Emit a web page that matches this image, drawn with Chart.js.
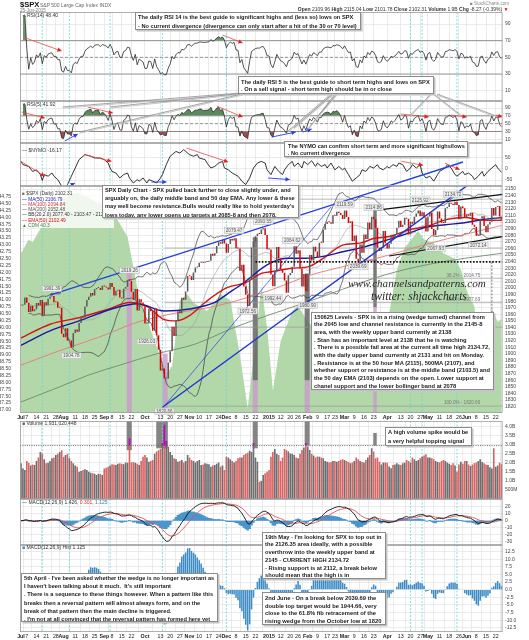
<!DOCTYPE html>
<html><head><meta charset="utf-8"><title>$SPX Daily</title>
<script src="https://cdn.jsdelivr.net/npm/chart.js"></script>
<style>
html,body{margin:0;padding:0;background:#fff;}
#wrap{position:relative;width:529px;height:640px;overflow:hidden;background:#fff;font-family:"Liberation Sans",Arial,sans-serif;}
#wrap canvas{position:absolute;left:0;}
.t{position:absolute;white-space:pre;color:#333;}
.box{position:absolute;background:#fff;border:1px solid #8c8c8c;box-shadow:1.5px 1.5px 0 #c4c4c4;box-sizing:border-box;overflow:hidden;}
.bin{position:absolute;color:#1a1a1a;font-weight:bold;white-space:pre;transform:scale(0.5);transform-origin:0 0;}
.wm{position:absolute;white-space:pre;font-family:"Liberation Serif",serif;font-style:italic;color:#2a2a2a;}
</style></head>
<body><div id="wrap"></div>
<script>
// ---------------- DATA ----------------
const tickIdx  = [0,3,8,13,18,22,28,33,38,43,47,52,57,64,72,77,82,87,92,97,102,106,111,116,121,128,134,139,143,148,153,158,162,167,172,177,182,189,196,201,206,210,216,221,226,230,235,240,245];
const tickText = ['Jul','7','14','21','28','Aug','11','18','25','Sep','8','15','22','Oct','13','20','27','Nov','10','17','24','Dec','8','15','22','2015','12','20','26','Feb','9','17','23','Mar','9','16','23','Apr','13','20','27','May','11','18','26','Jun','8','15','22'];
const monthIdx = [0,22,43,64,87,106,128,148,167,189,210,230];

const closes = [
1973.32,1974.62,1985.44,1977.65,1963.71,1972.83,1964.68,1967.57,1977.10,1973.28,1981.57,1958.12,1978.22,1973.63,1983.53,1987.01,1987.98,1978.34,1978.91,1969.95,1970.07,1930.67,
1925.15,1938.99,1920.21,1920.24,1909.57,1931.59,1936.92,1933.75,1946.72,1955.18,1955.06,1971.74,1981.60,1986.51,1992.37,1988.40,1997.92,2000.02,2000.12,1996.74,2003.37,
2002.28,2000.72,1997.65,2007.71,2001.54,1988.44,1995.69,1997.45,1985.54,1984.13,1998.98,2001.57,2011.36,2010.40,1994.29,1982.77,1998.30,1965.99,1982.85,1977.80,1972.29,
1946.16,1946.17,1967.90,1964.82,1935.10,1968.89,1928.21,1906.13,1874.74,1877.70,1862.49,1862.76,1886.76,1904.01,1941.28,1927.11,1950.82,1964.58,1961.63,1985.05,1982.30,1994.65,2018.05,
2017.81,2012.10,2023.57,2031.21,2031.92,2038.26,2039.68,2038.25,2039.33,2039.82,2041.32,2051.80,2048.72,2052.75,2063.50,2069.41,2067.03,2072.83,2067.56,
2053.44,2066.55,2074.33,2071.92,2075.37,2060.31,2059.82,2026.14,2035.33,2002.33,1989.63,1972.74,2012.89,2061.23,2070.65,2078.54,2082.17,2081.88,2088.77,2090.57,2080.35,2058.90,
2058.20,2020.58,2002.61,2025.90,2062.14,2044.81,2028.26,2023.03,2011.27,1992.67,2019.42,2022.55,2032.12,2063.15,2051.82,2057.09,2029.55,2002.16,2021.25,1994.99,
2020.85,2050.03,2041.51,2062.52,2055.47,2046.74,2068.59,2068.53,2088.48,2096.99,2100.34,2099.68,2097.45,2110.30,2109.66,2115.48,2113.86,2110.74,2104.50,
2117.39,2107.78,2098.53,2101.04,2071.26,2079.43,2044.16,2040.24,2065.95,2053.40,2081.19,2074.28,2099.50,2089.27,2108.10,2104.42,2091.50,2061.05,2056.15,2061.02,2086.24,2067.89,
2059.69,2066.96,2080.62,2076.33,2081.90,2091.18,2102.06,2092.43,2095.84,2106.63,2104.99,2081.18,2100.40,2097.29,2107.96,2112.93,2117.69,2108.92,2114.76,2106.85,2085.51,
2108.29,2114.49,2089.46,2080.15,2088.00,2116.10,2105.33,2099.12,2098.48,2121.10,2122.73,2129.20,2127.83,2125.85,2130.82,2126.06,2104.20,2123.48,2120.79,2107.39,
2111.73,2109.60,2114.07,2095.84,2092.83,2079.28,2080.15,2105.20,2108.86,2094.11,2084.43,2096.29,2100.44,2121.24,2109.99,2122.85,2124.20,2108.58,2102.31];

const volumes = [ // billions
1.97,1.69,1.6,2.1,2.0,1.85,1.9,1.88,2.1,2.3,
2.6,2.5,2.2,1.97,2.0,2.1,2.25,2.3,2.43,2.5,
2.6,2.7,2.34,2.43,2.5,2.25,2.1,1.97,1.85,1.78,
1.5,1.55,1.6,1.65,1.6,1.5,1.45,1.42,1.4,1.33,
1.4,1.38,1.33,1.69,1.72,1.78,1.85,1.92,1.9,1.88,
1.95,1.97,1.95,1.92,2.02,2.0,3.35,2.02,2.05,2.0,
1.95,1.88,2.1,2.34,2.43,2.3,2.06,2.1,2.16,2.5,
2.62,2.7,2.76,3.1,4.1,3.2,2.89,2.6,2.43,2.25,
2.2,2.06,2.1,2.16,2.02,2.1,2.43,2.3,2.16,2.1,
2.02,2.1,2.16,1.88,1.9,1.97,1.95,1.92,1.78,1.85,
1.88,1.95,2.02,1.78,1.85,1.6,2.34,2.3,2.2,2.1,
2.02,2.1,2.25,2.3,2.3,2.43,2.5,2.55,2.66,2.6,
3.1,2.3,2.06,0.96,1.0,1.33,1.42,1.5,1.6,2.34,
2.6,2.76,2.5,2.43,2.1,2.3,2.76,2.7,2.62,2.52,
2.5,2.43,2.3,2.25,2.5,2.71,2.85,3.1,2.9,2.71,
2.5,2.4,2.3,2.35,2.34,2.3,2.25,2.1,2.06,2.02,
2.05,2.1,2.1,2.06,2.1,2.16,2.2,2.16,2.1,2.05,
1.97,2.02,2.1,2.3,2.2,2.1,2.05,2.02,2.16,2.3,
2.43,2.8,2.62,2.25,2.3,2.06,1.9,2.02,2.02,2.0,
1.8,1.7,1.88,1.9,1.97,1.9,1.88,1.97,2.0,2.16,
2.1,2.02,2.3,2.2,2.1,2.15,2.25,2.34,2.4,2.47,
2.3,2.3,2.25,2.2,2.1,2.05,2.02,2.1,2.16,2.1,
2.02,1.95,1.88,1.97,1.85,1.5,1.9,2.06,1.95,2.1,
2.1,1.9,1.83,1.9,1.97,2.02,2.1,2.2,2.05,1.97,
1.9,1.88,1.75,1.69,2.8,1.78,1.85,2.0,1.92];
const volThreshold = 2.95;

const nymoIdx = [0,1,4,6,8,10,11,12,14,16,17,19,21,23,24,26,28,30,33,36,38,41,43,45,46,47,49,51,53,55,56,58,60,61,63,65,66,68,70,72,73,75,77,78,80,82,84,86,87,89,91,92,95,96,98,100,102,104,105,107,109,112,114,116,118,120,122,124,126,127,129,131,133,135,136,138,140,141,143,145,146,148,150,152,153,155,157,158,160,162,164,166,167,169,171,173,175,176,178,180,182,184,185,187,189,190,192,194,195,197,199,201,202,204,206,207,209,211,213,215,216,219,220,222,224,225,228,229,231,233,234,236,238,239,241,243,245,246,248];
const nymoVal = [32,18,10,-12,-5,-26,-52,-26,-33,-19,-33,-48,-77,-85,-70,-33,3,40,62,55,47,47,40,25,3,-12,-19,-41,-26,-19,-41,-63,-48,-55,-41,-63,-48,-55,-63,-41,-26,18,55,62,76,69,84,69,62,55,62,47,40,25,3,10,25,32,3,-5,-19,-33,-55,-70,-41,3,25,32,25,-5,-26,10,-12,-26,-5,18,32,10,25,3,32,18,35,10,25,10,18,3,25,-5,10,-5,3,-26,-55,-41,-26,-5,-12,10,3,18,3,-5,10,3,18,10,25,18,-12,3,18,3,18,-19,-41,-33,-55,-26,-12,3,18,3,-26,-33,-12,-26,-19,-33,-48,-33,-12,-33,-12,3,18,3,-16];

const cpcIdx = [0,4,6,11,14,19,24,29,34,39,44,49,55,58,61,65,68,72,75,78,82,86,89,96,103,108,113,117,121,124,127,130,134,140,143,148,155,162,170,178,186,190,194,198,205,208,213,218,224,227,230,234,237,240,243,246,248];
const cpcVal = [42.7,43.2,43.1,43.7,44.3,44.5,44.75,44.9,44.75,44.56,44.4,44.0,43.3,42.2,41.1,40.3,39.7,38.9,38.3,38.6,41.0,41.2,40.9,40.6,41.2,41.0,39.0,37.05,39.5,41.5,40.0,37.7,39.5,40.6,40.8,40.2,39.8,40.1,39.6,40.0,39.4,40.5,42.1,42.9,43.5,43.2,43.06,42.7,42.5,42.1,41.35,40.75,38.5,39.3,40.7,40.2,40.3];

const ma50Idx = [0,15,30,49,60,74,87,100,106,115,127,137,147,156,166,177,188,199,209,219,229,239,248];
const ma50Val = [1913,1935,1950,1970,1976,1965,1968,1978,1990,2008,2035,2045,2045,2048,2055,2062,2072,2082,2092,2096,2099,2104,2106.8];
const ema50Idx = [0,15,30,45,56,65,74,80,87,95,106,116,124,130,140,148,156,166,175,182,190,200,210,220,229,238,248];
const ema50Val = [1924,1945,1955,1968,1978,1972,1952,1950,1958,1978,2000,2008,2022,2025,2030,2032,2045,2065,2068,2075,2078,2088,2094,2104,2107,2103,2102.5];
const ma100Idx = [0,20,40,60,80,100,127,150,170,190,210,230,248];
const ma100Val = [1883,1905,1925,1948,1962,1972,1995,2020,2035,2050,2067,2082,2094.8];
const ma200Idx = [0,20,35,50,70,90,110,127,147,166,188,209,229,248];
const ma200Val = [1827,1850,1868,1882,1900,1915,1940,1958,1978,1998,2020,2035,2045,2052.5];

const fibLow = 1820.66, fibHigh = 2134.72, fibStartIdx = 74;
const fibPct = [0, 23.6, 38.2, 50, 61.8, 100];

const plIdx   = [16,56,26,65,74,110,117,125,140,148,130,167,174,182,206,223,214,236];
const plPrice = [1991.39,2019.26,1904.78,1926.03,1820.66,2079.47,1972.56,2093.55,2064.62,1980.90,1992.44,2119.59,2039.69,2114.86,2125.92,2134.72,2067.93,2072.14];

const cyanIdx = [11,25,46,73,106,201,207,225];
const bandStart = [54.6,73.2,119.6,146.4,181.8];
const bandEnd   = [57.2,75.7,122.2,149,183.6];
const bandPinkTop = [2030,1900,1860,1860,1971];
const bandGrayTop = [null,null,2077,2022,2126];
const volBandStart = [54.6,69.8,119.6,146.4,181.8];
const volBandEnd   = [57.2,75.8,122.2,149,183.6];
const volBandHi = [4.4,4.4,4.4,4.4,3.65];
const volBandLo = [2.7,2.8,2.8,2.95,2.95];

// trend lines [idx, value]
const rsi14Red = [[[1,74.4],[21,57.6]], [[104,76.8],[114.4,67.2]]];
const rsi5Red  = [[[0.4,79.8],[12.3,64.4]], [[34.5,92.6],[47.4,77.2]], [[101,95],[114.4,67]], [[196,74.7],[210.4,67]], [[221.8,72],[230,67]], [[245,72],[248.4,67]]];
const rsi5Blue = [[[22.6,5.6],[29.3,23.5]], [[129.4,15.8],[141.8,28.4]], [[145.4,28.4],[150,36.3]]];
const nymoRed  = [[[0,32.6],[12.3,-33.6]], [[32.9,61.7],[46.7,32.6]], [[85.4,91],[106.9,29.5]], [[196.3,32.6],[207.5,15]], [[218.7,25],[226.4,-4]]];
const nymoBlue = [[[21.7,-92],[27.8,-63]], [[67.3,-58.6],[75.1,-58.6]], [[127.5,-41],[138.7,-48]]];
const nymoBlueThick = [[182.6,-95],[228.1,29.5]];
const pxBlueUpper = [[15,1989],[201,2164]];
const pxBlueThin  = [[74,1821],[160,2123]];
const pxBlueThick = [[73,1819],[232,2159]];
const pxChanUpper = [[184,2118],[248.5,2142]];
const pxChanLower = [[190,2048.5],[248.5,2078]];
const pxDotted    = [[121,2039.69],[248.5,2039.69]];
const pxTarget    = [[243,2039.69],[243,1948]];
const rsi5Callouts = [[21.6,92.6],[45.8,92.6],[30.3,28.6],[137.2,28.6],[140.8,38.8],[148.5,38.8],[153.7,72],[201,72],[226.9,72],[244,72]];

// ---------------- INDICATORS (derived from closes) ----------------
function rsi(c,n){const o=[null];let ag=0,al=0;for(let i=1;i<c.length;i++){const d=c[i]-c[i-1],g=Math.max(d,0),l=Math.max(-d,0);if(i<=n){ag=(ag*(i-1)+g)/i;al=(al*(i-1)+l)/i;}else{ag=(ag*(n-1)+g)/n;al=(al*(n-1)+l)/n;}o.push(al===0?100:100-100/(1+ag/al));}return o;}
function ema(a,n){const k=2/(n+1);const o=[];let e=a[0];for(let i=0;i<a.length;i++){e=i===0?a[0]:a[i]*k+e*(1-k);o.push(e);}return o;}
function boll(c,n,m){const up=[],mid=[],lo=[];for(let i=0;i<c.length;i++){const s=Math.max(0,i-n+1);const w=c.slice(s,i+1);if(w.length<5){up.push(null);mid.push(null);lo.push(null);continue;}const av=w.reduce((p,q)=>p+q,0)/w.length;const sd=Math.sqrt(w.reduce((p,q)=>p+(q-av)*(q-av),0)/w.length);up.push(av+m*sd);mid.push(av);lo.push(av-m*sd);}return{up,mid,lo};}
const rsi14 = rsi(closes,14), rsi5 = rsi(closes,5);
const e12 = ema(closes,12), e26 = ema(closes,26);
const macd = e12.map((v,i)=>v-e26[i]);
const signal = ema(macd,9);
const hist = macd.map((v,i)=>v-signal[i]);
const bb = boll(closes,20,2);

// ---------------- HELPERS ----------------
const FONT = '"Liberation Sans", Arial, sans-serif';
Chart.defaults.font.family = FONT;
const wrap = document.getElementById('wrap');
const pts = a => a.map((v,i)=>({x:i,y:v}));
const pts2 = (ix,vals) => ix.map((x,k)=>({x,y:vals[k]}));
const RED = 'rgba(232,75,75,0.9)', BLUE = '#2440e0';
function mkCanvas(top,h){const c=document.createElement('canvas');c.width=529;c.height=h;c.style.top=top+'px';c.style.width='529px';c.style.height=h+'px';wrap.appendChild(c);return c;}
function seg(p,color,w,extra){return Object.assign({type:'line',data:p.map(q=>({x:q[0],y:q[1]})),borderColor:color,borderWidth:w,pointRadius:0,fill:false,order:1,yAxisID:'y'},extra||{});}
function xAxis(show){return{type:'linear',min:-0.5,max:248.5,offset:false,position:'bottom',
  afterBuildTicks(s){s.ticks=tickIdx.map(v=>({value:v}));},
  ticks:{display:show,autoSkip:false,maxRotation:0,minRotation:0,padding:1.5,color:'#222',
    font:c=>({family:FONT,size:5.3,weight:(c.tick&&monthIdx.includes(c.tick.value))?'bold':'normal'}),
    callback:v=>{const k=tickIdx.indexOf(v);return k<0?'':tickText[k];}},
  grid:{color:'#e2e2e2',lineWidth:0.7,drawTicks:false},border:{display:false},
  afterFit(s){s.height=show?8:0;s.paddingLeft=0;s.paddingRight=0;s.paddingTop=0;s.paddingBottom=0;}};}
function yR(min,max,ticks,fmt){return{position:'right',min,max,
  afterBuildTicks(s){s.ticks=ticks.map(v=>({value:v}));},
  ticks:{autoSkip:false,padding:2.5,color:'#444',font:{family:FONT,size:5},callback:v=>fmt(v)},
  grid:{color:'#e2e2e2',lineWidth:0.7,drawTicks:false},border:{display:false},
  afterFit(s){s.width=26.5;s.paddingTop=0;s.paddingBottom=0;}};}
function yLDummy(){return{position:'left',min:0,max:1,ticks:{display:false},grid:{display:false},border:{display:false},afterFit(s){s.width=20;s.paddingTop=0;s.paddingBottom=0;}};}
function opts(scales,kind){return{responsive:false,animation:false,events:[],layout:{padding:0},
  plugins:{legend:{display:false},tooltip:{enabled:false},panel:{kind}},scales,elements:{line:{tension:0}}};}

const HL = {
  rsi14:[{v:70,c:'#8c8c8c',d:[]},{v:50,c:'#8c8c8c',d:[3,2]},{v:30,c:'#8c8c8c',d:[]}],
  rsi5:[{v:70,c:'#8c8c8c',d:[]},{v:50,c:'#8c8c8c',d:[3,2]},{v:30,c:'#8c8c8c',d:[]}]
};
function drawUnder(chart,kind){
  const {ctx,chartArea:a,scales}=chart;const X=scales.x,Y=scales.y;
  ctx.save();ctx.beginPath();ctx.rect(a.left,a.top,a.right-a.left,a.bottom-a.top);ctx.clip();
  if(kind==='price'){
    bandStart.forEach((s,k)=>{const x1=X.getPixelForValue(s),x2=X.getPixelForValue(bandEnd[k]);
      const yp=Y.getPixelForValue(bandPinkTop[k]);ctx.fillStyle='rgba(206,150,206,0.78)';ctx.fillRect(x1,yp,x2-x1,a.bottom-yp);
      if(bandGrayTop[k]!==null){const yg=Y.getPixelForValue(bandGrayTop[k]);ctx.fillStyle='rgba(100,100,100,0.85)';ctx.fillRect(x1,yg,x2-x1,yp-yg);}});
  }
  if(kind==='vol'){
    volBandStart.forEach((s,k)=>{const x1=X.getPixelForValue(s),x2=X.getPixelForValue(volBandEnd[k]);
      const y1=Y.getPixelForValue(volBandHi[k]),y2=Y.getPixelForValue(volBandLo[k]);ctx.fillStyle='rgba(120,120,120,0.9)';ctx.fillRect(x1,y1,x2-x1,y2-y1);});
  }
  (HL[kind]||[]).forEach(h=>{const y=Y.getPixelForValue(h.v);ctx.strokeStyle=h.c;ctx.lineWidth=0.9;ctx.setLineDash(h.d);ctx.beginPath();ctx.moveTo(a.left,y);ctx.lineTo(a.right,y);ctx.stroke();});
  ctx.strokeStyle='#62d6da';ctx.lineWidth=0.8;ctx.setLineDash([2,1.5]);
  cyanIdx.forEach(i=>{const x=X.getPixelForValue(i);ctx.beginPath();ctx.moveTo(x,a.top);ctx.lineTo(x,a.bottom);ctx.stroke();});
  ctx.restore();
}
function drawOver(chart,kind){
  const {ctx,chartArea:a,scales}=chart;const X=scales.x,Y=scales.y;
  ctx.save();
  if(kind==='vol'){const y=Y.getPixelForValue(volThreshold);ctx.strokeStyle='#666';ctx.lineWidth=1;ctx.setLineDash([1,1.3]);ctx.beginPath();ctx.moveTo(a.left,y);ctx.lineTo(a.right,y);ctx.stroke();}
  if(kind==='price'){
    ctx.font='4.6px '+FONT;ctx.textBaseline='middle';
    plIdx.forEach((ix,k)=>{const p=plPrice[k];const above=p>=closes[ix];const x=X.getPixelForValue(ix);const y=Y.getPixelForValue(p)+(above?-5:5);
      const t=p.toFixed(2);const w=ctx.measureText(t).width+3;ctx.fillStyle='rgba(238,238,238,0.95)';ctx.strokeStyle='#b0b0b0';ctx.lineWidth=0.5;ctx.setLineDash([]);
      ctx.fillRect(x-w/2,y-3,w,6);ctx.strokeRect(x-w/2,y-3,w,6);ctx.fillStyle='#555';ctx.textAlign='center';ctx.fillText(t,x,y+0.3);});
    ctx.textAlign='right';ctx.fillStyle='#777';
    fibPct.forEach(pc=>{if(pc===0||pc===23.6)return;const pr=fibHigh-pc/100*(fibHigh-fibLow);const y=Y.getPixelForValue(pr)-3;ctx.fillText(pc.toFixed(1)+'% - '+pr.toFixed(2),X.getPixelForValue(237),y);});
  }
  ctx.restore();
}
const panelPlugin={id:'panel',
  beforeDatasetsDraw(chart,args,o){if(o.kind!=='price')drawUnder(chart,o.kind);},
  afterDatasetDraw(chart,args,o){if(o.kind==='price'&&chart.data.datasets[args.index].isArea)drawUnder(chart,o.kind);},
  afterDatasetsDraw(chart,args,o){drawOver(chart,o.kind);},
  afterDraw(chart){const {ctx,chartArea:a}=chart;ctx.save();ctx.strokeStyle='#9c9c9c';ctx.lineWidth=0.8;ctx.setLineDash([]);ctx.strokeRect(a.left+0.4,a.top+0.4,a.right-a.left-0.8,a.bottom-a.top-0.8);ctx.restore();}};
const arrowPlugin={id:'arrows',afterDatasetsDraw(chart){const ctx=chart.ctx;
  chart.data.datasets.forEach((ds,i)=>{if(!ds.arrow)return;const p=chart.getDatasetMeta(i).data;if(p.length<2)return;const a=p[p.length-2],b=p[p.length-1];
    const an=Math.atan2(b.y-a.y,b.x-a.x),L=4.2,W=2.2;ctx.save();ctx.fillStyle=ds.headColor||ds.borderColor;ctx.beginPath();ctx.moveTo(b.x,b.y);
    ctx.lineTo(b.x-L*Math.cos(an)+W*Math.sin(an),b.y-L*Math.sin(an)-W*Math.cos(an));ctx.lineTo(b.x-L*Math.cos(an)-W*Math.sin(an),b.y-L*Math.sin(an)+W*Math.cos(an));ctx.closePath();ctx.fill();ctx.restore();});}};
const PLUG=[panelPlugin,arrowPlugin];
const redArrow = s => seg(s,RED,0.9,{arrow:true,headColor:'#e02020'});
const blueArrow = s => seg(s,BLUE,0.9,{arrow:true});

// ---------------- CHARTS ----------------
const rsiFill = (data,hi,lo,gc,rc,lw)=>[
  {data,yAxisID:'y',borderColor:'#2a2a2a',borderWidth:lw,pointRadius:0,fill:{target:{value:hi},above:gc,below:'rgba(0,0,0,0)'},order:2},
  {data,yAxisID:'y',borderWidth:0,borderColor:'rgba(0,0,0,0)',pointRadius:0,fill:{target:{value:lo},above:'rgba(0,0,0,0)',below:rc},order:3}];

new Chart(mkCanvas(12,89),{type:'line',data:{datasets:[...rsi14Red.map(redArrow),...rsiFill(pts(rsi14),70,30,'#6d986d','#a05858',0.8)]},
  options:opts({x:xAxis(false),y:yR(-2.35,104.4,[90,70,50,30,10],v=>String(v)),yl:yLDummy()},'rsi14'),plugins:PLUG});

const cR5 = new Chart(mkCanvas(101,42),{type:'line',data:{datasets:[...rsi5Red.map(redArrow),...rsi5Blue.map(blueArrow),...rsiFill(pts(rsi5),70,30,'#5d8a5d','#9a5050',0.8)]},
  options:opts({x:xAxis(false),y:yR(0.54,107.9,[90,70,50,30,10],v=>String(v)),yl:yLDummy()},'rsi5'),plugins:PLUG});

new Chart(mkCanvas(143,43),{type:'line',data:{datasets:[...nymoRed.map(redArrow),...nymoBlue.map(blueArrow),seg(nymoBlueThick,BLUE,1.4),
  {data:pts2(nymoIdx,nymoVal),yAxisID:'y',borderColor:'#1e1e1e',borderWidth:0.9,pointRadius:0,fill:false,order:2}]},
  options:opts({x:xAxis(false),y:yR(-76.2,113.2,[50,0,-50],v=>String(v)),yl:yLDummy()},'nymo'),plugins:PLUG});

const priceTicks=[];for(let v=1820;v<=2150;v+=10)priceTicks.push(v);
const leftTicks=[];for(let v=37;v<=44.751;v+=0.25)leftTicks.push(+v.toFixed(2));
const fibSets = fibPct.map(pc=>{const pr=fibHigh-pc/100*(fibHigh-fibLow);return seg([[fibStartIdx,pr],[248.5,pr]],'#9a9a9a',0.7,{order:9});});
new Chart(mkCanvas(186,235),{type:'line',data:{datasets:[
  seg(pxBlueUpper,BLUE,1.3), seg(pxBlueThin,BLUE,0.7), seg(pxBlueThick,'#1f35d0',1.4),
  seg(pxChanUpper,'#111',1.2), seg(pxChanLower,'#111',1.2),
  seg(pxDotted,'#111',1.7,{borderDash:[1.6,1.6]}), seg(pxTarget,'#555',0.8,{borderDash:[2,1.5],arrow:true}),
  ...fibSets,
  {type:'bar',data:closes.map((c,i)=>({x:i,y:[i?closes[i-1]:c,c]})),yAxisID:'y',order:4,barPercentage:0.78,categoryPercentage:1,minBarLength:1,
    backgroundColor:c=>{const r=c.raw;return r&&r.y[1]<r.y[0]?'#e00000':'#5a5a5a';}},
  {data:pts2(ma50Idx,ma50Val),yAxisID:'y',borderColor:'#1a1aa0',borderWidth:1.4,pointRadius:0,tension:0.4,cubicInterpolationMode:'monotone',order:6},
  {data:pts2(ema50Idx,ema50Val),yAxisID:'y',borderColor:'#d41414',borderWidth:1.4,pointRadius:0,tension:0.4,cubicInterpolationMode:'monotone',order:6},
  {data:pts2(ma100Idx,ma100Val),yAxisID:'y',borderColor:'#e47878',borderWidth:0.9,pointRadius:0,tension:0.4,cubicInterpolationMode:'monotone',order:6},
  {data:pts2(ma200Idx,ma200Val),yAxisID:'y',borderColor:'#6f8a6f',borderWidth:0.9,pointRadius:0,tension:0.4,cubicInterpolationMode:'monotone',order:6},
  {data:pts(bb.up),yAxisID:'y',borderColor:'#3c3c3c',borderWidth:0.7,pointRadius:0,order:7},
  {data:pts(bb.mid),yAxisID:'y',borderColor:'#9a9a9a',borderWidth:0.6,pointRadius:0,order:7},
  {data:pts(bb.lo),yAxisID:'y',borderColor:'#3c3c3c',borderWidth:0.7,pointRadius:0,order:7},
  {data:pts2(cpcIdx,cpcVal),yAxisID:'yl',isArea:true,borderColor:'rgba(0,0,0,0)',borderWidth:0,pointRadius:0,fill:'start',backgroundColor:'#b2d8aa',order:20}
]},options:opts({x:xAxis(true),y:yR(1810.3,2154.7,priceTicks,v=>String(v)),
  yl:{position:'left',min:36.89,max:45.14,afterBuildTicks(s){s.ticks=leftTicks.map(v=>({value:v}));},
    ticks:{autoSkip:false,padding:1,color:'#444',font:{family:FONT,size:5},callback:v=>Number(v).toFixed(2)},
    grid:{display:false},border:{display:false},afterFit(s){s.width=20;s.paddingTop=0;s.paddingBottom=0;}}},'price'),plugins:PLUG});

new Chart(mkCanvas(421,78),{type:'bar',data:{datasets:[
  {data:volumes.map((v,i)=>v>volThreshold?{x:i,y:[volThreshold,v]}:null).filter(Boolean),yAxisID:'y',backgroundColor:'#c400c4',barPercentage:0.85,categoryPercentage:1,grouped:false,order:1},
  {data:volumes.map((v,i)=>({x:i,y:Math.min(v,volThreshold)})),yAxisID:'y',barPercentage:0.85,categoryPercentage:1,grouped:false,order:2,
    backgroundColor:c=>{const i=c.dataIndex;return i>0&&closes[i]<closes[i-1]?'#d96464':'#6e6e6e';}}
]},options:opts({x:xAxis(false),y:yR(0,4.31,[0.5,1,1.5,2,2.5,3,3.5,4],v=>v<1?'500M':v.toFixed(1)+'B'),yl:yLDummy()},'vol'),plugins:PLUG});

new Chart(mkCanvas(499,46),{type:'line',data:{datasets:[
  {data:pts(macd),yAxisID:'y',borderColor:'#111',borderWidth:0.9,pointRadius:0,order:1},
  {data:pts(signal),yAxisID:'y',borderColor:'#e25050',borderWidth:0.9,pointRadius:0,order:2},
  {type:'bar',data:pts(hist),yAxisID:'y',backgroundColor:'#4a95cc',barPercentage:1,categoryPercentage:1,order:3}
]},options:opts({x:xAxis(false),y:yR(-34.7,31,[20,10,0,-10,-20,-30],v=>String(v)),yl:yLDummy()},'macd'),plugins:PLUG});

new Chart(mkCanvas(545,95),{type:'bar',data:{datasets:[
  {data:pts(hist),yAxisID:'y',backgroundColor:'#3d8cc6',barPercentage:0.8,categoryPercentage:1,order:1}
]},options:opts({x:xAxis(true),y:yR(-13.9,14.7,[12.5,10,7.5,5,2.5,0,-2.5,-5,-7.5,-10,-12.5],v=>Number(v).toFixed(1)),yl:yLDummy()},'hist'),plugins:PLUG});

// ---------------- OVERLAY (callouts) ----------------
(function(){const c=mkCanvas(0,640);const ctx=c.getContext('2d');const X=cR5.scales.x,Y=cR5.scales.y,top=101;
  const froms=[[240,93],[240,93.5],[242,94],[331,94],[333,94],[335,94],[337,94],[431,94],[434,94],[437,94]];
  rsi5Callouts.forEach((t,k)=>{const x=X.getPixelForValue(t[0]),y=top+Y.getPixelForValue(t[1]);const f=froms[k];
    ctx.strokeStyle='#c9c9c9';ctx.lineWidth=1;ctx.beginPath();ctx.moveTo(f[0],f[1]+1.2);ctx.lineTo(x,y+1.2);ctx.stroke();
    ctx.strokeStyle='#8f8f8f';ctx.lineWidth=0.8;ctx.beginPath();ctx.moveTo(f[0],f[1]);ctx.lineTo(x,y);ctx.stroke();});})();

// ---------------- TEXT (rendered at 2x then scaled, to get sub-6px sizes) ----------------
const mctx=document.createElement('canvas').getContext('2d');
function fit(lines,w,style,family){mctx.font=(style?style+' ':'')+'20px '+family;const mw=Math.max(...lines.map(l=>mctx.measureText(l).width));return 20*w/mw;}
function txt(x,yc,size,html,color,weight,right){const d=document.createElement('div');d.className='t';
  if(right){d.style.right=(529-x)+'px';d.style.transformOrigin='100% 0';}else{d.style.left=x+'px';d.style.transformOrigin='0 0';}
  d.style.transform='scale(0.5)';d.style.top=(yc-size*0.6)+'px';d.style.fontSize=(size*2)+'px';d.style.lineHeight=(size*2.4)+'px';
  d.style.color=color||'#333';if(weight)d.style.fontWeight=weight;d.innerHTML=html;wrap.appendChild(d);return d;}

txt(20,4.6,7.6,'$SPX','#111','bold');
txt(40,4.8,5,'S&amp;P 500 Large Cap Index INDX','#666');
txt(20,10.3,4.6,'25-Jun-2015','#777');
txt(509,3.4,4.6,'&#9632; StockCharts.com','#888',null,true);
txt(509,9.4,5,'<b>Open</b> 2109.96 <b>High</b> 2115.04 <b>Low</b> 2101.78 <b>Close</b> 2102.31 <b>Volume</b> 1.9B <b>Chg</b> -8.27 (-0.39%) <span style="color:#d00">&#9660;</span>','#333',null,true);

txt(21.5,15.2,5,'<span style="color:#3a8a3a">&#9650;</span>RSI(14) 48.40','#333');
txt(21.5,104.3,5,'<span style="color:#3a8a3a">&#9650;</span>RSI(5) 41.92','#333');
txt(21.5,149.7,5,'&#8212; $NYMO -16.17','#333');
const lg=txt(21,209,4.8,
 '<span style="color:#777">&#9632;</span> $SPX (Daily) 2102.31<br>'+
 '<span style="color:#1a1aa0">&#8212; MA(50) 2106.79</span><br>'+
 '<span style="color:#d03030">&#8212; MA(100) 2094.84</span><br>'+
 '<span style="color:#555">&#8212; MA(200) 2052.48</span><br>'+
 '<span style="color:#333">&#8212; BB(20,2.0) 2077.40 - 2103.47 - 2129.60</span><br>'+
 '<span style="color:#d01010">&#8212; EMA(50) 2102.49</span><br>'+
 '<span style="color:#3a7a3a">&#9650; CDM 40.3</span>','#333');
lg.style.top='190.6px';lg.style.lineHeight='10.5px';lg.style.background='rgba(255,255,255,0.8)';lg.style.padding='0 2px';
txt(21.5,423.3,5,'<span style="color:#666">&#9632;</span> Volume 1,931,020,448','#333');
txt(21.5,502.2,5,'&#8212; MACD(12,26,9) 1.426, <span style="color:#e03030">0.301</span>, <span style="color:#2a7fc0">1.125</span>','#333');
txt(21.5,547.4,5,'<span style="color:#3d8cc6">&#9632;</span> MACD(12,26,9) Hist 1.125','#333');

// watermark
[['www.channelsandpatterns.com',348,284,138],['twitter: shjackcharts',371,297,96]].forEach(w=>{
  const fs=fit([w[0]],w[3],'italic','"Liberation Serif", serif');const d=document.createElement('div');d.className='wm';
  d.style.left=w[1]+'px';d.style.top=(w[2]-fs*0.6)+'px';d.style.fontSize=fs+'px';d.style.lineHeight=(fs*1.2)+'px';d.textContent=w[0];wrap.appendChild(d);});

const boxes=[
 {x:135,y:11.7,w:226,h:18.8,lh:8.3,c:16.7,lines:['The daily RSI 14 is the best guide to significant highs and (less so) lows on SPX','- No current divergence (divergence can only start after a hit of the 30 or 70 level)']},
 {x:238,y:76,w:196,h:18,lh:7.6,c:81.7,lines:['The daily RSI 5 is the best guide to short term highs and lows on SPX','. On a sell signal - short term high should be in or close']},
 {x:284.3,y:140.7,w:184,h:16.3,lh:7,c:145.3,lines:['The NYMO can confirm short term and more significant highs/lows','. No current divergence']},
 {x:101.7,y:185,w:197.3,h:33.3,lh:8.1,c:189,lines:['SPX Daily Chart - SPX pulled back further to close slightly under, and','arguably on, the daily middle band and 50 day EMA. Any lower & these',"may well become resistance.Bulls would really like to hold yesterday's",'lows today, any lower opens up targets at 2085-8 and then 2078.']},
 {x:310.7,y:311.7,w:183.3,h:78.3,lh:7.67,c:316,lines:['150625 Levels - SPX is in a rising (wedge turned) channel from','the 2045 low and channel resistance is currently in the 2145-8','area, with the weekly upper band currently at 2138','. Stan has an important level at 2138 that he is watching','. There is a possible fail area at the current all time high 2134.72,','with the daily upper band currently at 2131 and hit on Monday.','. Resistance is at the 50 hour MA (2115), 500MA (2107), and','whether support or resistance is at the middle band (2103.5) and','the 50 day EMA (2103) depends on the open. Lower support at','chanel support and the lower bollinger band at 2078']},
 {x:384.7,y:426.7,w:87.6,h:19.3,lh:8.3,c:431.7,lines:['A high volume spike would be','a very helpful topping signal']},
 {x:20.7,y:573.3,w:197.6,h:48.4,lh:8.1,c:577.7,lines:["5th April - I've been asked whether the wedge is no longer important as","I haven't been talking about it much.  It's still important",'. There is a sequence to these things however. When a pattern like this','breaks then a reversal pattern will almost always form, and on the','break of that pattern then the main decline is triggered.',". I'm not at all convinced that the reversal pattern has formed here yet"]},
 {x:262,y:531.7,w:123.7,h:47.3,lh:7.7,c:536.7,lines:["19th May - I'm looking for SPX to top out in",'the 2126.35 area ideally, with a possible','overthrow into the weekly upper band at','2145 - CURRENT HIGH 2134.72','- Rising support is at 2112, a break below','should mean that the high is in']},
 {x:262,y:592.3,w:123.7,h:32.7,lh:7.8,c:597.7,lines:['2nd June - On a break below 2039.69 the','double top target would be 1944.66, very','close to the 61.8% fib retracement of the','rising wedge from the October low at 1820']}
];
boxes.forEach(b=>{const d=document.createElement('div');d.className='box';
  d.style.left=b.x+'px';d.style.top=b.y+'px';d.style.width=b.w+'px';d.style.height=b.h+'px';
  const pad=2.3;const fs=Math.min(7.2,fit(b.lines,b.w-2*pad-2.5,'bold',FONT));
  const inn=document.createElement('div');inn.className='bin';
  inn.style.left=pad+'px';inn.style.top=Math.max(0,b.c-b.y-1-b.lh/2)+'px';inn.style.fontSize=(2*fs)+'px';
  b.lines.forEach(l=>{const ln=document.createElement('div');ln.textContent=l;ln.style.height=(2*b.lh)+'px';ln.style.lineHeight=(2*b.lh)+'px';inn.appendChild(ln);});
  d.appendChild(inn);wrap.appendChild(d);});
</script></body></html>
